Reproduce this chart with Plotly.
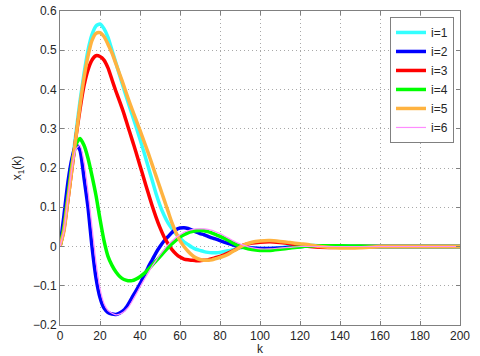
import plotly.graph_objects as go

k = [0, 2, 4, 6, 8, 10, 12, 14, 16, 18, 20, 22, 24, 26, 28, 30, 32, 34, 36, 38,
     40, 42, 44, 46, 48, 50, 52, 54, 56, 58, 60, 62, 64, 66, 68, 70, 72, 74, 76, 78,
     80, 84, 88, 92, 96, 100, 105, 110, 115, 120, 125, 130, 140, 150, 160, 170, 180, 190, 200]

x_i1 = [0, 0.05, 0.13, 0.21, 0.29, 0.37, 0.44, 0.50, 0.54, 0.562, 0.567, 0.555, 0.533, 0.50, 0.467, 0.433, 0.40, 0.368, 0.337, 0.306,
        0.273, 0.24, 0.205, 0.17, 0.135, 0.105, 0.08, 0.06, 0.045, 0.032, 0.021, 0.012, 0.005, -0.002, -0.007, -0.01, -0.013, -0.015, -0.016, -0.016,
        -0.015, -0.011, -0.006, -0.002, -0.003, -0.005, -0.005, -0.003, 0.0, 0.003, 0.003, 0.002, 0.001, 0, 0, 0, 0, 0, 0]
x_i2 = [0, 0.08, 0.165, 0.225, 0.26, 0.245, 0.175, 0.10, 0.0, -0.08, -0.13, -0.157, -0.168, -0.172, -0.173, -0.169, -0.162, -0.148, -0.13, -0.113,
        -0.095, -0.075, -0.054, -0.035, -0.016, 0.0, 0.014, 0.025, 0.036, 0.043, 0.047, 0.048, 0.046, 0.042, 0.037, 0.033, 0.03, 0.026, 0.022, 0.019,
        0.015, 0.008, 0.002, -0.002, -0.004, -0.005, -0.005, -0.004, -0.002, 0, 0.001, 0.001, 0, 0, 0, 0, 0, 0, 0]
x_i3 = [0, 0.045, 0.12, 0.20, 0.28, 0.35, 0.41, 0.45, 0.475, 0.486, 0.484, 0.475, 0.455, 0.425, 0.395, 0.367, 0.338, 0.305, 0.273, 0.24,
        0.206, 0.172, 0.138, 0.105, 0.075, 0.048, 0.025, 0.007, -0.008, -0.019, -0.027, -0.032, -0.034, -0.035, -0.036, -0.036, -0.035, -0.034, -0.031, -0.028,
        -0.025, -0.017, -0.007, 0.004, 0.009, 0.011, 0.012, 0.01, 0.007, 0.003, 0.0, -0.002, -0.002, 0, 0, 0, 0, 0, 0]
x_i4 = [0, 0.05, 0.13, 0.21, 0.26, 0.275, 0.258, 0.225, 0.18, 0.13, 0.07, 0.015, -0.025, -0.048, -0.065, -0.077, -0.084, -0.087, -0.087, -0.083,
        -0.077, -0.069, -0.059, -0.048, -0.037, -0.026, -0.014, -0.003, 0.007, 0.016, 0.024, 0.03, 0.035, 0.038, 0.04, 0.041, 0.04, 0.038, 0.034, 0.03,
        0.026, 0.016, 0.005, -0.003, -0.008, -0.01, -0.01, -0.007, -0.004, -0.001, 0.001, 0.002, 0.002, 0.001, 0, 0, 0, 0, 0]
x_i5 = [0, 0.04, 0.12, 0.20, 0.28, 0.36, 0.43, 0.485, 0.525, 0.543, 0.545, 0.535, 0.515, 0.493, 0.465, 0.437, 0.408, 0.378, 0.35, 0.323,
        0.296, 0.268, 0.24, 0.21, 0.18, 0.15, 0.12, 0.09, 0.06, 0.035, 0.015, 0.0, -0.012, -0.022, -0.029, -0.033, -0.035, -0.035, -0.034, -0.031,
        -0.028, -0.02, -0.008, 0.004, 0.011, 0.014, 0.015, 0.013, 0.01, 0.007, 0.004, 0.0, -0.004, -0.003, 0, 0, 0, 0, 0]
x_i6 = [0, 0.04, 0.122, 0.20, 0.248, 0.258, 0.215, 0.14, 0.05, -0.04, -0.107, -0.145, -0.163, -0.17, -0.174, -0.172, -0.166, -0.156, -0.14, -0.122,
        -0.103, -0.085, -0.068, -0.051, -0.036, -0.021, -0.008, 0.004, 0.014, 0.023, 0.03, 0.036, 0.04, 0.043, 0.045, 0.045, 0.045, 0.044, 0.041, 0.037,
        0.033, 0.022, 0.011, 0.003, -0.003, -0.006, -0.006, -0.004, -0.002, 0, 0, 0, 0, 0, 0, 0, 0, 0, 0]

names = ["i=1", "i=2", "i=3", "i=4", "i=5", "i=6"]
series = [x_i1, x_i2, x_i3, x_i4, x_i5, x_i6]
colors = ["#33ffff", "#0000ff", "#ff0000", "#00ff00", "#ffb340", "#ff8cff"]
widths = [3.5, 3.5, 3.5, 3.5, 3.5, 1.2]

fig = go.Figure()
for name, ys, c, w in zip(names, series, colors, widths):
    fig.add_trace(go.Scatter(x=k, y=ys, mode="lines", name=name,
                             line=dict(color=c, width=w, shape="spline", smoothing=0.6)))

axis_common = dict(showline=True, linecolor="#808080", linewidth=1, mirror="ticks",
                   ticks="inside", ticklen=4, tickcolor="#808080",
                   showgrid=True, gridcolor="#a8a8a8", griddash="1px,3px", gridwidth=1,
                   zeroline=False, automargin=False,
                   tickfont=dict(size=12, color="#262626"))

fig.update_xaxes(range=[0, 200], dtick=20, tick0=0,
                 title=dict(text="k", standoff=3, font=dict(size=12, color="#262626")),
                 **axis_common)
fig.update_yaxes(range=[-0.2, 0.6], dtick=0.1, tick0=0,
                 title=dict(text="x<sub>1</sub>(k)", standoff=8, font=dict(size=12, color="#262626")),
                 **axis_common)

fig.update_layout(
    width=480, height=356,
    margin=dict(l=60, r=20, t=11, b=31),
    paper_bgcolor="white", plot_bgcolor="white",
    font=dict(family="Liberation Sans, Arial, sans-serif", size=12, color="#262626"),
    legend=dict(x=0.985, y=0.981, xanchor="right", yanchor="top",
                bgcolor="white", bordercolor="#808080", borderwidth=1,
                font=dict(size=12), tracegroupgap=0, itemwidth=30),
    showlegend=True,
)

# drop the page's default body margin so the figure sits at the window corner
fig.write_html("out.html", config={"displayModeBar": False},
               post_script="document.body.style.margin='0';")
